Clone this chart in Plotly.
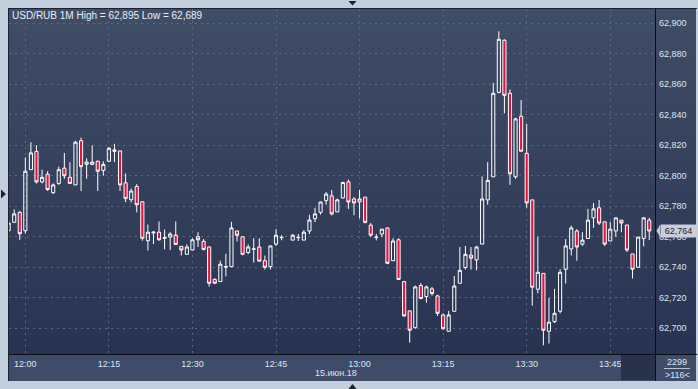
import plotly.graph_objects as go

DATE = "2018-06-15"
times = ["11:57","11:58","11:59","12:00","12:01","12:02","12:03","12:04","12:05","12:06",
         "12:07","12:08","12:09","12:10","12:11","12:12","12:13","12:14","12:15","12:16",
         "12:17","12:18","12:19","12:20","12:21","12:22","12:23","12:24","12:25","12:26",
         "12:27","12:28","12:29","12:30","12:31","12:32","12:33","12:34","12:35","12:36",
         "12:37","12:38","12:39","12:40","12:41","12:42","12:43","12:44","12:45","12:46",
         "12:48","12:49","12:50","12:51","12:52","12:53","12:54","12:55","12:56","12:57",
         "12:58","12:59","13:00","13:01","13:02","13:03","13:04","13:05","13:06","13:07",
         "13:08","13:09","13:10","13:11","13:12","13:13","13:14","13:15","13:16","13:17",
         "13:18","13:19","13:20","13:21","13:22","13:23","13:24","13:25","13:26","13:27",
         "13:28","13:29","13:30","13:31","13:32","13:33","13:34","13:35","13:36","13:37",
         "13:38","13:39","13:40","13:41","13:42","13:43","13:44","13:45","13:46","13:47",
         "13:48","13:49","13:50","13:51","13:52"]

opens = [62.764, 62.7695, 62.776, 62.764, 62.804, 62.816, 62.796, 62.801, 62.789, 62.795,
         62.805, 62.799, 62.794, 62.823, 62.8075, 62.8075, 62.8095, 62.8035, 62.8095, 62.816,
         62.8163, 62.7954, 62.7843, 62.793, 62.783, 62.7574, 62.7625, 62.763, 62.759, 62.7598,
         62.761, 62.7537, 62.7485, 62.7513, 62.760, 62.757, 62.7533, 62.732, 62.7306, 62.740,
         62.7404, 62.7638, 62.760, 62.7497, 62.7518, 62.7533, 62.7443, 62.7404, 62.7552, 62.7594,
         62.7578, 62.7594, 62.7578, 62.7638, 62.7718, 62.776, 62.7837, 62.7868, 62.7763, 62.7855,
         62.796, 62.7848, 62.7828, 62.786, 62.7676, 62.7595, 62.7618, 62.7658, 62.7443, 62.758,
         62.7306, 62.7114, 62.7004, 62.728, 62.7208, 62.7258, 62.7212, 62.7087, 62.698, 62.7111,
         62.7295, 62.7398, 62.748, 62.7448, 62.7552, 62.7842, 62.7993, 62.8547, 62.8889, 62.8541,
         62.7993, 62.839, 62.8147, 62.7842, 62.7256, 62.736, 62.698, 62.7043, 62.7111, 62.7387,
         62.752, 62.7638, 62.7552, 62.7589, 62.7724, 62.779, 62.7698, 62.7572, 62.7638, 62.7709,
         62.7677, 62.7487, 62.740, 62.7589, 62.7709]

highs = [62.770, 62.778, 62.777, 62.812, 62.822, 62.820, 62.804, 62.803, 62.795, 62.806,
         62.815, 62.809, 62.823, 62.825, 62.8115, 62.820, 62.810, 62.8095, 62.819, 62.821,
         62.8165, 62.8015, 62.7917, 62.7945, 62.783, 62.768, 62.7638, 62.770, 62.7648, 62.763,
         62.770, 62.754, 62.755, 62.759, 62.763, 62.7585, 62.7535, 62.7328, 62.7443, 62.7488,
         62.7698, 62.764, 62.760, 62.755, 62.7591, 62.759, 62.7477, 62.754, 62.765, 62.761,
         62.7618, 62.7618, 62.7644, 62.7744, 62.779, 62.783, 62.7894, 62.7907, 62.785, 62.796,
         62.7975, 62.786, 62.7907, 62.786, 62.769, 62.7618, 62.765, 62.766, 62.7591, 62.7591,
         62.7306, 62.7114, 62.728, 62.7297, 62.728, 62.7271, 62.722, 62.7098, 62.7114, 62.7343,
         62.7533, 62.754, 62.7533, 62.754, 62.7996, 62.809, 62.8609, 62.8948, 62.8895, 62.8567,
         62.8381, 62.8497, 62.834, 62.7842, 62.760, 62.736, 62.720, 62.7258, 62.7387, 62.7585,
         62.7673, 62.765, 62.763, 62.7783, 62.7822, 62.7842, 62.770, 62.7698, 62.7724, 62.771,
         62.7677, 62.7487, 62.7598, 62.773, 62.7724]

lows = [62.763, 62.769, 62.758, 62.762, 62.804, 62.795, 62.795, 62.790, 62.788, 62.794,
        62.798, 62.795, 62.794, 62.790, 62.798, 62.807, 62.790, 62.800, 62.809, 62.809,
        62.790, 62.7827, 62.7825, 62.776, 62.7574, 62.751, 62.7552, 62.7575, 62.7517, 62.7513,
        62.755, 62.7477, 62.7485, 62.7513, 62.7533, 62.751, 62.7273, 62.7293, 62.7306, 62.734,
        62.740, 62.757, 62.7478, 62.7485, 62.743, 62.744, 62.7385, 62.7385, 62.754, 62.7577,
        62.7578, 62.7572, 62.7578, 62.7618, 62.7696, 62.7745, 62.781, 62.774, 62.7763, 62.785,
        62.7783, 62.7741, 62.772, 62.7687, 62.7598, 62.7576, 62.7598, 62.742, 62.7443, 62.732,
        62.7074, 62.6906, 62.6997, 62.719, 62.7168, 62.7214, 62.708, 62.6989, 62.698, 62.7111,
        62.7295, 62.7385, 62.7385, 62.738, 62.7552, 62.781, 62.7993, 62.8541, 62.841, 62.794,
        62.798, 62.8161, 62.779, 62.7148, 62.7229, 62.6888, 62.690, 62.7034, 62.7098, 62.7293,
        62.7477, 62.7443, 62.754, 62.7589, 62.7658, 62.7677, 62.754, 62.7572, 62.7598, 62.763,
        62.750, 62.7326, 62.740, 62.7537, 62.7578]

closes = [62.769, 62.775, 62.762, 62.803, 62.815, 62.796, 62.799, 62.791, 62.794, 62.804,
          62.800, 62.795, 62.822, 62.806, 62.809, 62.809, 62.803, 62.8075, 62.818, 62.817,
          62.794, 62.785, 62.790, 62.781, 62.759, 62.763, 62.763, 62.758, 62.7595, 62.7618,
          62.755, 62.7513, 62.7533, 62.758, 62.758, 62.7517, 62.7295, 62.7295, 62.742, 62.7405,
          62.7658, 62.761, 62.7485, 62.7533, 62.752, 62.744, 62.740, 62.754, 62.761, 62.7596,
          62.761, 62.7596, 62.763, 62.771, 62.775, 62.7828, 62.788, 62.775, 62.7842, 62.7956,
          62.7828, 62.7822, 62.7848, 62.7694, 62.761, 62.7597, 62.765, 62.7426, 62.7572, 62.732,
          62.7081, 62.6987, 62.7271, 62.7195, 62.7271, 62.7227, 62.7098, 62.6997, 62.7087, 62.7277,
          62.738, 62.7485, 62.746, 62.7533, 62.7848, 62.797, 62.8541, 62.8895, 62.8528, 62.8013,
          62.8373, 62.8161, 62.7822, 62.7269, 62.7367, 62.6987, 62.704, 62.7098, 62.7367, 62.754,
          62.7658, 62.7533, 62.7578, 62.7709, 62.7783, 62.769, 62.7552, 62.765, 62.7724, 62.769,
          62.7513, 62.7387, 62.7598, 62.7724, 62.7638]

title_text = "USD/RUB 1M High = 62,895 Low = 62,689"
date_text = "15.июн.18"
last_price = 62.764
last_price_text = "62,764"
count_text = "2299"
bars_text = ">116<"

x = [f"{DATE} {t}" for t in times]

W, H = 698, 389
L, R, T, B = 9, 655, 9, 354  # plot area pixel box
PW, PH = R - L, B - T


def px(v):
    return (v - L) / PW


def py(v):
    return (B - v) / PH


FONT = "Liberation Sans, Arial, sans-serif"
TXT = "#dde5f2"

fig = go.Figure(go.Candlestick(
    x=x, open=opens, high=highs, low=lows, close=closes,
    increasing=dict(line=dict(color="#ffffff", width=1), fillcolor="rgba(0,0,0,0)"),
    decreasing=dict(line=dict(color="#ffffff", width=1), fillcolor="#e8113c"),
    whiskerwidth=0, hoverinfo="skip", showlegend=False,
))

shapes = []
# gradient background for plot + right axis
N = 46
top_c = (64, 77, 103)
bot_c = (40, 51, 81)
for i in range(N):
    f = (i + 0.5) / N
    c = tuple(round(top_c[k] + (bot_c[k] - top_c[k]) * f) for k in range(3))
    y0 = T + i * PH / N
    y1 = T + (i + 1) * PH / N + 0.6
    shapes.append(dict(type="rect", xref="paper", yref="paper", layer="below",
                       x0=px(L), x1=px(696), y0=py(min(y1, B)), y1=py(y0),
                       fillcolor="rgb(%d,%d,%d)" % c, line=dict(width=0)))
# bottom axis strip
shapes.append(dict(type="rect", xref="paper", yref="paper", layer="below",
                   x0=px(L), x1=px(696), y0=py(381), y1=py(B),
                   fillcolor="#3e4c69", line=dict(width=0)))
# dark box bottom right of plot
shapes.append(dict(type="rect", xref="paper", yref="paper", layer="above",
                   x0=px(621), x1=px(655), y0=py(380), y1=py(355),
                   fillcolor="#28324b", line=dict(width=0)))
# border lines
def hline(yv, xa, xb, color, w=1):
    shapes.append(dict(type="line", xref="paper", yref="paper", layer="above",
                       x0=px(xa), x1=px(xb), y0=py(yv), y1=py(yv), line=dict(color=color, width=w)))

def vline(xv, ya, yb, color, w=1):
    shapes.append(dict(type="line", xref="paper", yref="paper", layer="above",
                       x0=px(xv), x1=px(xv), y0=py(ya), y1=py(yb), line=dict(color=color, width=w)))

hline(8.5, 8, 697, "#1b2130")
vline(8.5, 8, 381, "#1b2130")
hline(354.5, 9, 697, "#0b0e15")
vline(655.5, 8, 381, "#0b0e15")
hline(368.5, 664, 690, "#b8c3d6")

# small navigation triangles in the outer frame
def tri(pts, color="#1a2130"):
    d = "M " + " L ".join(f"{px(a)},{py(b)}" for a, b in pts) + " Z"
    shapes.append(dict(type="path", xref="paper", yref="paper", layer="above",
                       path=d, fillcolor=color, line=dict(width=0)))

tri([(348.5, 1), (356.5, 1), (352.5, 5.5)])
tri([(348.5, 389), (356.5, 389), (352.5, 384)])
tri([(1, 189.5), (1, 198.5), (6, 194)])

# price label arrow
yp = T + (62.9094 - last_price) / (62.9094 - 62.6831) * PH
tri([(656.5, yp), (660, yp - 6), (660, yp + 6)], color="#c9ced8")

annotations = [
    dict(xref="paper", yref="paper", x=px(10), y=py(15), xanchor="left", yanchor="middle",
         text=title_text, showarrow=False, font=dict(family=FONT, size=10, color="#e8eef8")),
    dict(xref="paper", yref="paper", x=px(336), y=py(373.5), xanchor="center", yanchor="middle",
         text=date_text, showarrow=False, font=dict(family=FONT, size=9, color=TXT)),
    dict(xref="paper", yref="paper", x=px(677), y=py(362), xanchor="center", yanchor="middle",
         text=count_text, showarrow=False, font=dict(family=FONT, size=9, color=TXT)),
    dict(xref="paper", yref="paper", x=px(677), y=py(374.5), xanchor="center", yanchor="middle",
         text=bars_text, showarrow=False, font=dict(family=FONT, size=9, color=TXT)),
    dict(xref="paper", yref="y", x=px(660), y=last_price, xanchor="left", yanchor="middle",
         text=last_price_text, showarrow=False, bgcolor="#c9ced8", width=35, height=12,
         borderpad=0, font=dict(family=FONT, size=9, color="#1b2232")),
]

grid = dict(showgrid=True, gridcolor="#5b6886", gridwidth=1, griddash="2px,4px",
            zeroline=False, showline=False, ticks="")

fig.update_layout(
    width=W, height=H,
    margin=dict(l=L, r=W - R, t=T, b=H - B, pad=0),
    paper_bgcolor="#c3cfdc", plot_bgcolor="rgba(0,0,0,0)",
    separators=", ",
    showlegend=False,
    boxgap=0.2,
    font=dict(family=FONT, size=9, color=TXT),
    xaxis=dict(type="date", range=[f"{DATE} 11:57:04", f"{DATE} 13:53:02"],
               rangeslider=dict(visible=False), tick0=f"{DATE} 12:00", dtick=900000,
               tickformat="%H:%M", ticklabelstandoff=3, **grid),
    yaxis=dict(side="right", range=[62.6831, 62.9094], tick0=62.7, dtick=0.02,
               tickformat=".3f", ticklabelstandoff=3, **grid),
    shapes=shapes, annotations=annotations,
)

fig.write_html("out.html")
